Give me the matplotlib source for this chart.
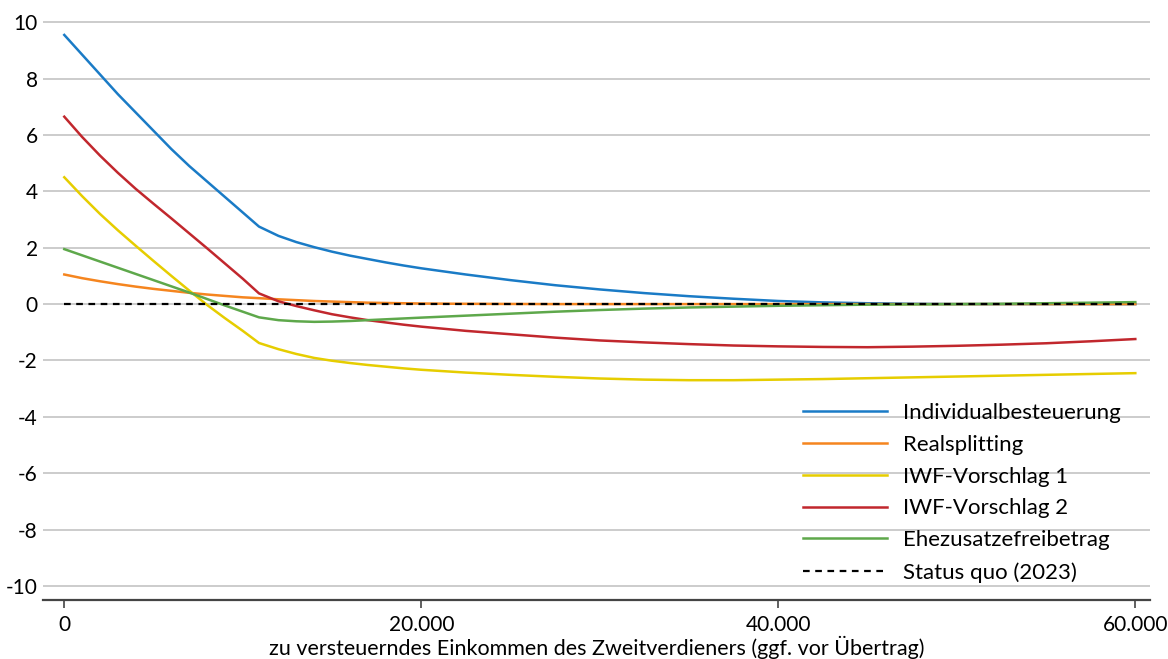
import matplotlib.pyplot as plt
from matplotlib.ticker import FuncFormatter

plt.rcParams['font.family'] = ['Lato', 'DejaVu Sans']
plt.rcParams['axes.unicode_minus'] = False

# Einkommen des Zweitverdieners (Stützstellen, Knick beim Grundfreibetrag)
einkommen = [0, 1000, 2000, 3000, 4000, 5000, 6000, 7000, 8000, 9000, 10000,
             10908, 12000, 13000, 14000, 15000, 16000, 17000, 18000, 19000, 20000,
             22500, 25000, 27500, 30000, 32500, 35000, 37500, 40000,
             42500, 45000, 47500, 50000, 52500, 55000, 57500, 60000]

individual = [9.55, 8.85, 8.15, 7.45, 6.8, 6.15, 5.5, 4.9, 4.35, 3.8, 3.25,
              2.75, 2.42, 2.2, 2.02, 1.86, 1.72, 1.6, 1.48, 1.37, 1.27,
              1.05, 0.85, 0.67, 0.52, 0.39, 0.28, 0.19, 0.11,
              0.06, 0.03, 0.01, 0.0, 0.0, 0.0, 0.0, 0.0]
realsplitting = [1.05, 0.92, 0.81, 0.71, 0.62, 0.54, 0.47, 0.4, 0.34, 0.29, 0.24,
                 0.21, 0.17, 0.14, 0.11, 0.09, 0.07, 0.05, 0.04, 0.03, 0.02,
                 0.01, 0.005, 0.0, 0.0, 0.0, 0.0, 0.0, 0.0,
                 0.0, 0.0, 0.0, 0.0, 0.0, 0.0, 0.0, 0.0]
iwf1 = [4.5, 3.83, 3.2, 2.62, 2.07, 1.53, 1.0, 0.48, -0.03, -0.5, -0.95,
        -1.38, -1.6, -1.77, -1.91, -2.01, -2.09, -2.16, -2.22, -2.28, -2.33,
        -2.43, -2.51, -2.58, -2.64, -2.68, -2.7, -2.7, -2.68,
        -2.66, -2.63, -2.6, -2.57, -2.54, -2.51, -2.48, -2.45]
iwf2 = [6.65, 5.93, 5.27, 4.66, 4.09, 3.56, 3.04, 2.51, 1.98, 1.44, 0.9,
        0.38, 0.1, -0.07, -0.22, -0.36, -0.47, -0.57, -0.65, -0.73, -0.8,
        -0.95, -1.07, -1.19, -1.29, -1.36, -1.42, -1.47, -1.5,
        -1.52, -1.53, -1.51, -1.48, -1.44, -1.39, -1.32, -1.24]
ehezusatz = [1.95, 1.73, 1.51, 1.29, 1.07, 0.85, 0.63, 0.41, 0.18, -0.05, -0.27,
             -0.47, -0.57, -0.61, -0.63, -0.62, -0.6, -0.57, -0.54, -0.51, -0.48,
             -0.41, -0.34, -0.27, -0.21, -0.16, -0.12, -0.09, -0.06,
             -0.04, -0.02, -0.01, 0.0, 0.01, 0.03, 0.05, 0.07]
status_quo = [0.0] * len(einkommen)

reihen = [
    ('Individualbesteuerung', individual, '#1a7bc6'),
    ('Realsplitting', realsplitting, '#f5851f'),
    ('IWF-Vorschlag 1', iwf1, '#e6cd00'),
    ('IWF-Vorschlag 2', iwf2, '#c1272d'),
    ('Ehezusatzefreibetrag', ehezusatz, '#5ea84b'),
]

fig = plt.figure(figsize=(11.68, 6.59), dpi=100)
ax = fig.add_axes([0.037, 0.0895, 0.948, 0.881])

for name, werte, farbe in reihen:
    ax.plot(einkommen, werte, color=farbe, linewidth=1.8, label=name)
ax.plot(einkommen, status_quo, color='black', linewidth=1.6,
        linestyle=(0, (3, 2.5)), label='Status quo (2023)')

ax.set_xlim(-1180, 60850)
ax.set_ylim(-10.5, 10.1)
ax.set_yticks(range(-10, 11, 2))
ax.set_xticks([0, 20000, 40000, 60000])
ax.xaxis.set_major_formatter(FuncFormatter(lambda v, p: f'{int(v):,}'.replace(',', '.')))

ax.grid(axis='y', color='#cccccc', linewidth=1.4)
ax.set_axisbelow(True)
for s in ['top', 'right', 'left']:
    ax.spines[s].set_visible(False)
ax.spines['bottom'].set_color('#444444')
ax.spines['bottom'].set_linewidth(1.6)

ax.tick_params(axis='y', length=0, labelsize=15, pad=4)
ax.tick_params(axis='x', length=6, width=1.2, color='#444444', labelsize=15, pad=5)

ax.set_xlabel('zu versteuerndes Einkommen des Zweitverdieners (ggf. vor Übertrag)',
              fontsize=15.5, labelpad=0.5)

ax.legend(loc='lower right', bbox_to_anchor=(0.973, 0.03), frameon=False, fontsize=16,
          handlelength=3.8, handletextpad=0.7, labelspacing=0.53,
          borderaxespad=0, borderpad=0)

fig.savefig('out.png', dpi=100)
